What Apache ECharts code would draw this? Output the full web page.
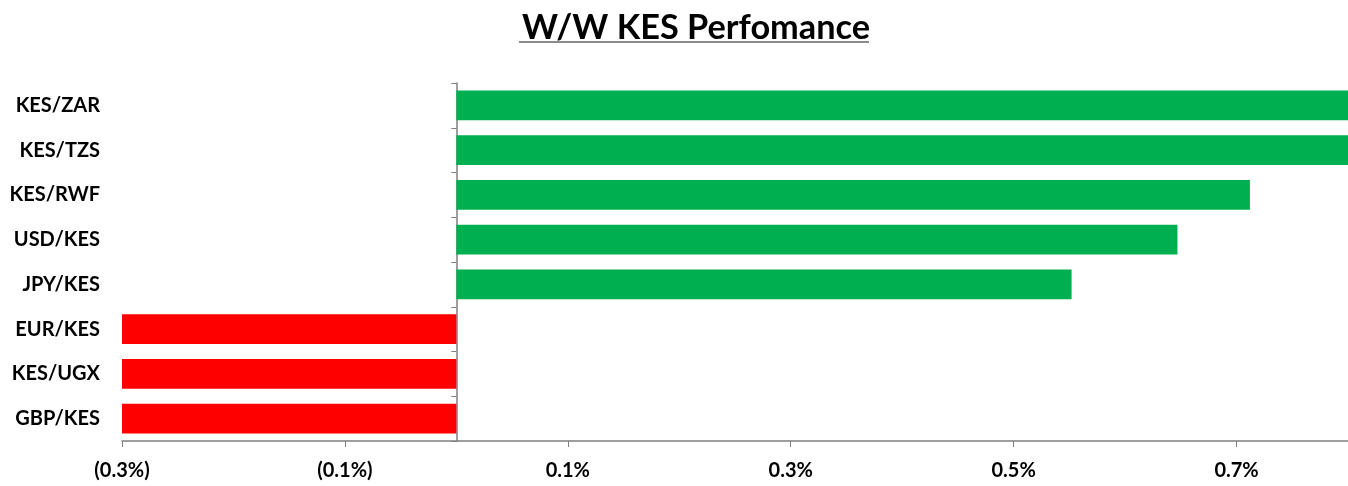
<!DOCTYPE html>
<html>
<head>
<meta charset="utf-8">
<script src="https://cdn.jsdelivr.net/npm/echarts@6/dist/echarts.min.js"></script>
<style>
  html, body { margin: 0; padding: 0; background: #fff; }
  #main { width: 1348px; height: 486px; }
</style>
</head>
<body>
<div id="main"></div>
<script>
// currency pairs, top to bottom
var categories = ['KES/ZAR', 'KES/TZS', 'KES/RWF', 'USD/KES', 'JPY/KES', 'EUR/KES', 'KES/UGX', 'GBP/KES']
// w/w change in %
var values = [0.80, 0.80, 0.712, 0.647, 0.552, -0.30, -0.30, -0.30]
// x axis tick labels (%)
var tickValues = [-0.3, -0.1, 0.1, 0.3, 0.5, 0.7]

var font = 'Lato, "Open Sans", sans-serif'

var myChart = echarts.init(document.getElementById('main'))

var option = {
    animation: false,
    title: {
        text: 'W/W KES Perfomance',
        left: 517,
        top: 6,
        textStyle: { fontFamily: font, fontSize: 34.3, fontWeight: 'bold', color: '#000' }
    },
    graphic: [{
        type: 'line',
        shape: { x1: 519, y1: 42, x2: 869, y2: 42 },
        style: { stroke: '#666', lineWidth: 1.5 }
    }],
    grid: { left: 122, right: 0, top: 83, bottom: 45, containLabel: false, outerBoundsMode: 'none' },
    xAxis: {
        type: 'value',
        min: -0.3,
        max: 0.8,
        splitLine: { show: false },
        axisLine: { show: true, lineStyle: { color: '#7f7f7f', width: 1.5 } },
        axisTick: { show: true, customValues: tickValues, length: 6, lineStyle: { color: '#7f7f7f' } },
        axisLabel: {
            customValues: tickValues,
            margin: 20,
            fontFamily: font, fontSize: 20, fontWeight: 'bold', color: '#000',
            formatter: function (v) {
                var s = Math.abs(v).toFixed(1) + '%'
                return v < 0 ? '(' + s + ')' : s
            }
        }
    },
    yAxis: [{
        // zero line with ticks
        type: 'category',
        inverse: true,
        data: categories,
        axisLine: { onZero: true, lineStyle: { color: '#7f7f7f', width: 1.5 } },
        axisTick: { show: true, length: 5, lineStyle: { color: '#7f7f7f' } },
        axisLabel: { show: false }
    }, {
        // labels at the far left
        type: 'category',
        position: 'left',
        inverse: true,
        data: categories,
        axisLine: { show: false, onZero: false },
        axisTick: { show: false },
        axisLabel: {
            margin: 22,
            fontFamily: font, fontSize: 20, fontWeight: 'bold', color: '#000'
        }
    }],
    series: [{
        type: 'bar',
        data: values.map(function (v) {
            return { value: v, itemStyle: { color: v >= 0 ? '#00B050' : '#FF0000' } }
        }),
        barCategoryGap: '33%'
    }]
}

myChart.setOption(option)
</script>
</body>
</html>
